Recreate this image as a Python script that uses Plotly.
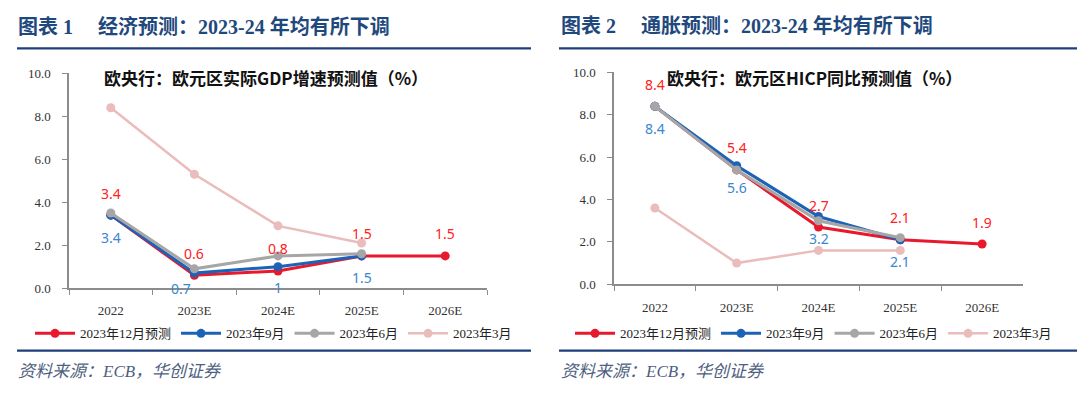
import plotly.graph_objects as go

W, H = 1080, 403

categories = ["2022", "2023E", "2024E", "2025E", "2026E"]

# Chart 1: GDP growth forecasts (%)
gdp_dec = [3.4, 0.6, 0.8, 1.5, 1.5]
gdp_sep = [3.4, 0.7, 1.0, 1.5]
gdp_jun = [3.5, 0.9, 1.5, 1.6]
gdp_mar = [8.4, 5.3, 2.9, 2.1]

# Chart 2: HICP forecasts (%)
hicp_dec = [8.4, 5.4, 2.7, 2.1, 1.9]
hicp_sep = [8.4, 5.6, 3.2, 2.1]
hicp_jun = [8.4, 5.4, 3.0, 2.2]
hicp_mar = [3.6, 1.0, 1.6, 1.6]

series_names = ["2023年12月预测", "2023年9月", "2023年6月", "2023年3月"]
colors = ["#E8192C", "#1C63B8", "#A6A6A6", "#EABCBC"]
label_red = "#FF2020"
label_blue = "#3A86D0"

y_ticks = [0, 2, 4, 6, 8, 10]

title1 = "图表 1　 经济预测：2023-24 年均有所下调"
title2 = "图表 2　 通胀预测：2023-24 年均有所下调"
sub1 = "欧央行：欧元区实际GDP增速预测值（%）"
sub2 = "欧央行：欧元区HICP同比预测值（%）"
source = "资料来源：ECB，华创证券"


def px_x(p):
    return p / W


def px_y(p):
    return 1 - p / H


fig = go.Figure()

panels = [
    dict(xa="x", ya="y", legend="legend",
         data=[gdp_dec, gdp_sep, gdp_jun, gdp_mar],
         xdom=[px_x(69), px_x(487)], ydom=[px_y(292), px_y(69)]),
    dict(xa="x2", ya="y2", legend="legend2",
         data=[hicp_dec, hicp_sep, hicp_jun, hicp_mar],
         xdom=[px_x(614), px_x(1023)], ydom=[px_y(288), px_y(68)]),
]

draw_order = [3, 0, 1, 2]  # pink at back, grey on top
for p in panels:
    for i in draw_order:
        vals = p["data"][i]
        lw = 3 if i < 3 else 2.5
        fig.add_trace(go.Scatter(
            x=categories[:len(vals)], y=vals, mode="lines+markers",
            name=series_names[i], legendrank=i + 1,
            line=dict(color=colors[i], width=lw),
            marker=dict(color=colors[i], size=9),
            xaxis=p["xa"], yaxis=p["ya"], legend=p["legend"],
            hoverinfo="skip",
        ))

axis_common = dict(
    showgrid=False, zeroline=False, showline=True, linecolor="#8C8C8C",
    linewidth=1.5, ticks="outside", tickcolor="#8C8C8C", ticklen=5,
    tickfont=dict(family="Liberation Serif", size=13, color="#333333"),
)
for k, p in enumerate(panels):
    sfx = "" if k == 0 else "2"
    fig.update_layout(**{
        "xaxis" + sfx: dict(axis_common, domain=p["xdom"], anchor="y" + sfx,
                            type="category", categoryorder="array",
                            categoryarray=categories, tickson="boundaries",
                            range=[-0.5, 4.5], ticklabelstandoff=10),
        "yaxis" + sfx: dict(axis_common, domain=p["ydom"], anchor="x" + sfx,
                            range=[0, 10], tickvals=y_ticks, tickformat=".1f",
                            ticklabelstandoff=9),
    })

annotations = []
label_font = dict(family="Noto Sans, Open Sans", size=14)

# data labels: red above, blue below (x given as category index)
specs = [
    ("x", "y", gdp_dec, gdp_sep),
    ("x2", "y2", hicp_dec, hicp_sep),
]
for xa, ya, red, blue in specs:
    for i, v in enumerate(red):
        annotations.append(dict(
            x=i, y=v, xref=xa, yref=ya, text=f"{v:g}",
            showarrow=False, yshift=22,
            font=dict(label_font, color=label_red)))
    for i, v in enumerate(blue):
        special = (xa == "x" and i == 1)
        low = (xa == "x" and i == 2)
        annotations.append(dict(
            x=i, y=v, xref=xa, yref=ya, text=f"{v:g}",
            showarrow=False, yshift=-15 if special else (-21 if low else -22),
            xshift=-13 if special else 0,
            font=dict(label_font, color=label_blue)))

# headers, subtitles, sources
for x0, t, sub, subx in [(16, title1, sub1, 102), (559, title2, sub2, 665)]:
    annotations.append(dict(
        x=px_x(x0), y=px_y(20), xref="paper", yref="paper", text="<b>" + t + "</b>",
        showarrow=False, xanchor="left", yanchor="middle",
        font=dict(family="Liberation Serif, Noto Sans CJK SC", size=20, color="#1F497D")))
    annotations.append(dict(
        x=px_x(subx), y=px_y(73), xref="paper", yref="paper", text="<b>" + sub + "</b>",
        showarrow=False, xanchor="left", yanchor="middle",
        font=dict(family="Noto Sans CJK SC", size=17, color="#111111")))
    annotations.append(dict(
        x=px_x(x0), y=px_y(379), xref="paper", yref="paper", text="<i>" + source + "</i>",
        showarrow=False, xanchor="left", yanchor="middle",
        font=dict(family="Liberation Serif, Noto Sans CJK SC", size=17, color="#4F5F7F")))

shapes = []
for x0, x1 in [(17, 531), (559, 1077)]:
    for yy in (43, 357):
        shapes.append(dict(type="line", xref="paper", yref="paper",
                           x0=px_x(x0), x1=px_x(x1), y0=px_y(yy), y1=px_y(yy),
                           line=dict(color="#1F3F7A", width=2.2)))

legend_common = dict(
    orientation="h", xanchor="left", yanchor="middle", y=px_y(339),
    font=dict(family="Liberation Serif, Noto Sans CJK SC", size=13, color="#222222"),
    bgcolor="rgba(0,0,0,0)", itemclick=False, itemdoubleclick=False,
    traceorder="normal", tracegroupgap=0, itemwidth=40,
)

fig.update_layout(
    width=W, height=H, margin=dict(l=0, r=0, t=0, b=0),
    paper_bgcolor="white", plot_bgcolor="white",
    showlegend=True,
    legend=dict(legend_common, x=px_x(30)),
    legend2=dict(legend_common, x=px_x(570)),
    annotations=annotations, shapes=shapes,
)

fig.write_html("out.html", config={"displayModeBar": False},
               post_script="document.body.style.margin='0px';")
